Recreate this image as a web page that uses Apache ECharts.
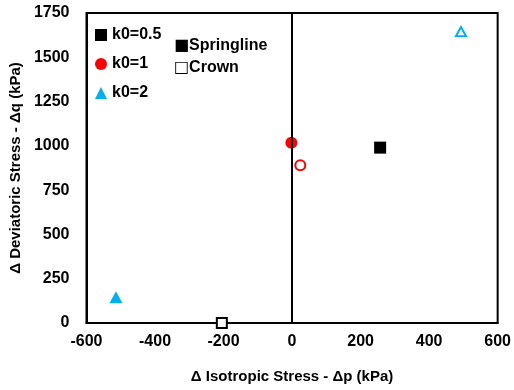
<!DOCTYPE html>
<html>
<head>
<meta charset="utf-8">
<script src="https://cdn.jsdelivr.net/npm/echarts@6/dist/echarts.min.js"></script>
<style>
  html, body { margin: 0; padding: 0; background: #fff; }
  #chart { width: 514px; height: 390px; }
</style>
</head>
<body>
<div id="chart"></div>
<script>
const k0Labels = ['k0=0.5', 'k0=1', 'k0=2'];
const k0Colors = ['#000000', '#FF0000', '#00B0F0'];
const k0Symbols = ['rect', 'circle', 'triangle'];
// springline (filled) and crown (hollow) points, kPa
const springlineP = [257, -2, -514];
const springlineQ = [990, 1018, 145];
const crownP = [-205, 24, 493];
const crownQ = [0, 890, 1645];

const xTicks = { min: -600, max: 600, interval: 200 };
const yTicks = { min: 0, max: 1750, interval: 250 };

const font = 'Liberation Sans';
const chart = echarts.init(document.getElementById('chart'), null, { renderer: 'canvas' });

const series = [];
k0Labels.forEach((label, i) => {
  series.push({
    name: label,
    type: 'scatter',
    symbol: k0Symbols[i],
    symbolSize: k0Symbols[i] === 'triangle' ? [13, 12] : 12,
    itemStyle: { color: k0Colors[i], opacity: 1 },
    data: [[springlineP[i], springlineQ[i]]]
  });
  series.push({
    name: label + ' crown',
    type: 'scatter',
    symbol: k0Symbols[i],
    symbolSize: k0Symbols[i] === 'triangle' ? [10, 9] : 10,
    itemStyle: { color: '#fff', borderColor: k0Colors[i], borderWidth: 2, opacity: 1 },
    data: [[crownP[i], crownQ[i]]]
  });
});
// vertical reference line at p = 0
series[0].markLine = {
  silent: true,
  symbol: 'none',
  label: { show: false },
  lineStyle: { color: '#000', width: 2, type: 'solid' },
  data: [{ xAxis: 0 }]
};

const txt = { fontFamily: font, fontWeight: 'bold', color: '#000' };
const markStyle = { fontFamily: 'DejaVu Sans', fontWeight: 'bold', fontSize: 16, fill: '#000' };
const labelStyle = { fontFamily: font, fontWeight: 'bold', fontSize: 16, fill: '#000' };

chart.setOption({
  animation: false,
  grid: { left: 84, right: 15, top: 13, bottom: 67, show: true, borderColor: '#000', borderWidth: 2 },
  legend: {
    data: k0Labels.map((l, i) => ({ name: l, icon: k0Symbols[i], itemStyle: { opacity: 1 } })),
    orient: 'vertical',
    left: 90, top: 22,
    itemWidth: 12, itemHeight: 12, itemGap: 13,
    textStyle: Object.assign({ fontSize: 16 }, txt),
    selectedMode: false
  },
  graphic: [
    { type: 'text', left: 174, top: 38, style: { text: '{m|■}{t|Springline}', rich: { m: markStyle, t: labelStyle } } },
    { type: 'text', left: 174, top: 60, style: { text: '{m|□}{t|Crown}', rich: { m: markStyle, t: labelStyle } } }
  ],
  xAxis: {
    type: 'value',
    min: xTicks.min, max: xTicks.max, interval: xTicks.interval,
    name: 'Δ Isotropic Stress - Δp (kPa)',
    nameLocation: 'middle', nameGap: 46,
    nameTextStyle: Object.assign({ fontSize: 15 }, txt),
    axisLine: { onZero: false, lineStyle: { color: '#000', width: 2 } },
    axisTick: { show: false },
    splitLine: { show: false },
    axisLabel: Object.assign({ fontSize: 16, margin: 11, formatter: v => String(v) }, txt)
  },
  yAxis: {
    type: 'value',
    min: yTicks.min, max: yTicks.max, interval: yTicks.interval,
    name: 'Δ Deviatoric Stress - Δq (kPa)',
    nameLocation: 'middle', nameGap: 62,
    nameTextStyle: Object.assign({ fontSize: 15 }, txt),
    axisLine: { onZero: false, lineStyle: { color: '#000', width: 2 } },
    axisTick: { show: false },
    splitLine: { show: false },
    axisLabel: Object.assign({ fontSize: 16, margin: 17, formatter: v => String(v) }, txt)
  },
  series: series
});
</script>
</body>
</html>
